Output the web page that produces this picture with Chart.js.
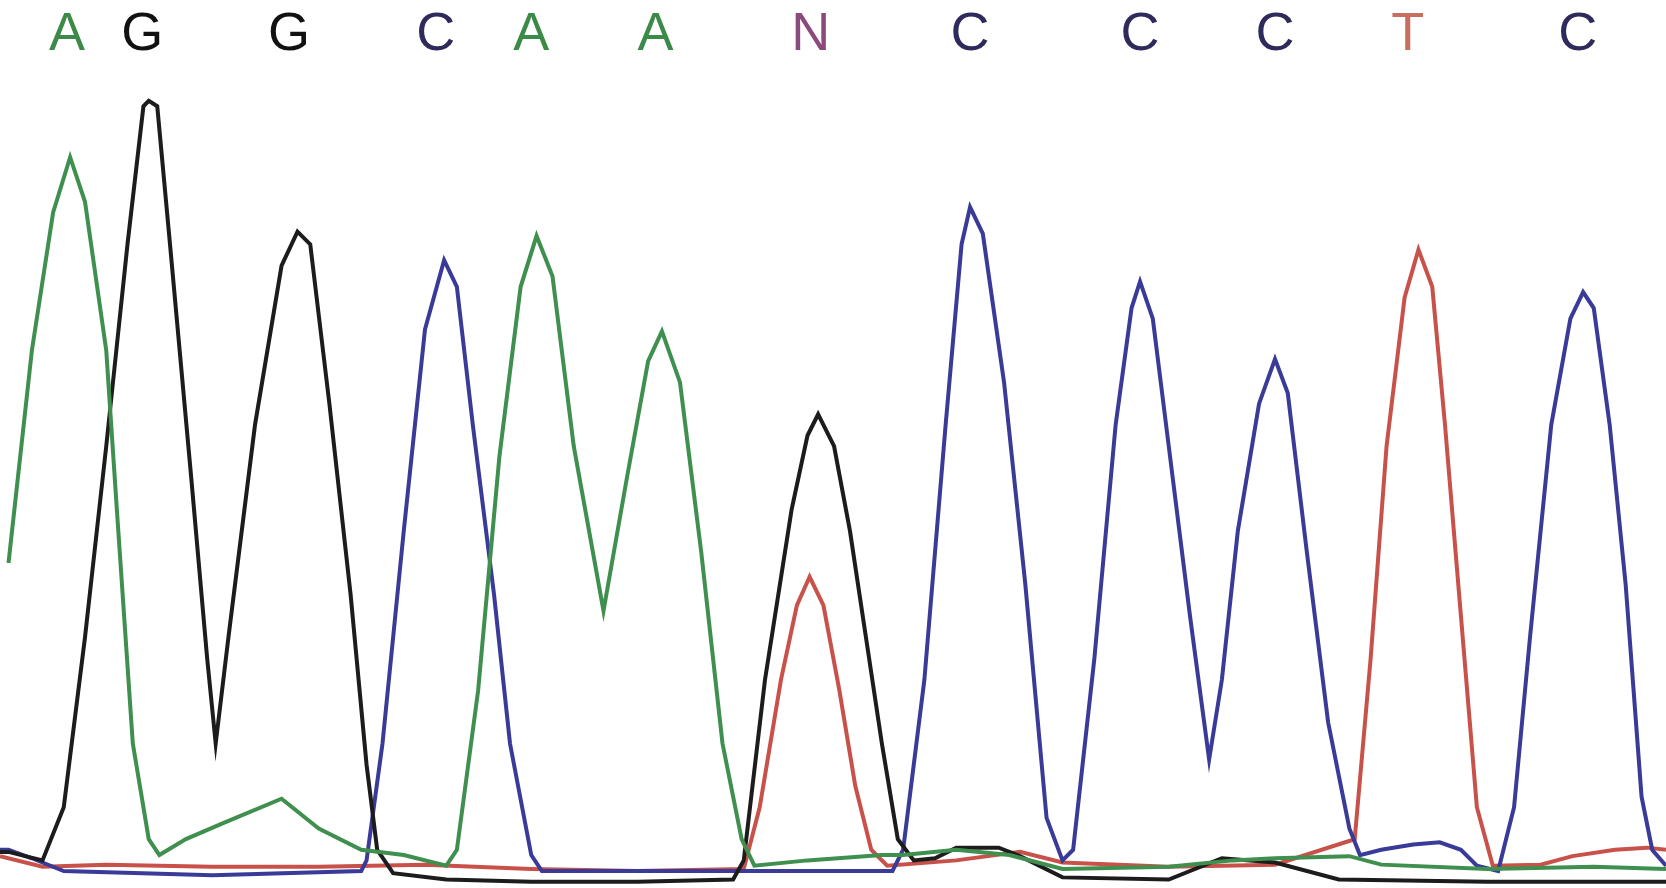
<!DOCTYPE html>
<html>
<head>
<meta charset="utf-8">
<script src="https://cdn.jsdelivr.net/npm/chart.js@4"></script>
<style>
  html, body { margin: 0; padding: 0; background: #fff; }
  #wrap { width: 1666px; height: 888px; }
</style>
</head>
<body>
<div id="wrap"><canvas id="trace" width="1666" height="888"></canvas></div>
<script>
// base calls shown above the trace (scan position, base)
const basePos = [63, 134, 272, 410, 500, 617, 763, 913, 1073, 1200, 1325, 1485];
const baseCalls = ['A', 'G', 'G', 'C', 'A', 'A', 'N', 'C', 'C', 'C', 'T', 'C'];

// trace signal: [scan position, intensity]
const traceA = [[8,306],[30,506],[50,636],[66,688],[80,646],[100,506],[110,356],[125,136],[140,46],[150,31],[175,46],[210,61],[265,84],[300,56],[340,36],[380,31],[420,21],[430,36],[450,186],[470,406],[490,566],[505,614],[520,576],[540,416],[568,261],[590,386],[610,496],[623,524],[640,476],[660,316],[680,136],[698,46],[710,21],[760,26],[830,31],[850,31],[900,36],[950,31],[1000,18],[1100,20],[1160,26],[1200,28],[1270,30],[1300,22],[1400,18],[1500,20],[1568,18]];
const traceG = [[0,34],[8,34],[40,26],[60,76],[80,236],[100,416],[120,606],[135,736],[140,741],[148,736],[160,606],[180,386],[195,216],[203,136],[215,236],[240,436],[265,586],[280,618],[292,606],[310,456],[330,276],[345,116],[355,36],[370,14],[420,8],[500,6],[600,6],[690,8],[700,26],[720,196],[745,356],[760,426],[770,446],[785,416],[800,336],[815,236],[830,136],[845,46],[860,26],[880,28],[900,38],[940,38],[960,30],[1000,10],[1100,8],[1150,28],[1200,24],[1260,8],[1400,6],[1568,6]];
const traceC = [[0,36],[8,36],[30,28],[60,16],[200,12],[340,16],[345,26],[360,136],[380,336],[400,526],[418,591],[430,566],[445,436],[465,276],[480,136],[500,31],[510,16],[840,16],[850,36],[870,196],[890,436],[905,606],[913,641],[925,616],[945,476],[965,286],[985,66],[1000,26],[1010,36],[1030,216],[1050,436],[1065,546],[1073,571],[1085,536],[1100,416],[1120,256],[1138,121],[1150,196],[1165,336],[1185,456],[1200,498],[1212,466],[1230,316],[1250,156],[1270,56],[1280,31],[1300,36],[1330,41],[1355,43],[1375,36],[1390,21],[1410,16],[1425,76],[1440,236],[1460,436],[1478,536],[1490,561],[1500,546],[1515,436],[1530,286],[1545,86],[1555,36],[1568,21]];
const traceT = [[0,30],[40,20],[100,22],[200,20],[300,20],[400,22],[500,18],[600,16],[700,18],[715,76],[735,196],[750,266],[762,293],[775,266],[790,186],[805,96],[820,36],[835,21],[900,26],[960,34],[1000,24],[1100,20],[1200,22],[1275,46],[1290,216],[1305,416],[1322,556],[1335,601],[1348,566],[1360,436],[1375,256],[1390,76],[1405,21],[1450,22],[1480,30],[1520,36],[1550,38],[1568,36]];

const baseColors = { A: '#3b8a48', G: '#111111', C: '#2e2a5c', N: '#8c4a7c', T: '#c76e5e' };

function toPoints(arr) {
    return arr.map(p => ({ x: p[0], y: p[1] }));
}

function makeSet(label, arr, color) {
    return {
        label: label,
        data: toPoints(arr),
        borderColor: color,
        borderWidth: 4,
        pointRadius: 0,
        tension: 0,
        fill: false
    };
}

// letters over the peaks
const baseLabels = {
    id: 'baseLabels',
    afterDraw(chart) {
        const ctx = chart.ctx;
        const xs = chart.scales.x;
        const ys = chart.scales.y;
        ctx.save();
        ctx.font = '54px "Liberation Sans", Arial, sans-serif';
        ctx.textAlign = 'center';
        ctx.textBaseline = 'alphabetic';
        basePos.forEach((pos, i) => {
            const b = baseCalls[i];
            ctx.fillStyle = baseColors[b];
            ctx.fillText(b, xs.getPixelForValue(pos), ys.getPixelForValue(789));
        });
        ctx.restore();
    }
};

const ctx = document.getElementById('trace').getContext('2d');
new Chart(ctx, {
    type: 'line',
    data: {
        datasets: [
            makeSet('A', traceA, '#3f8f4f'),
            makeSet('G', traceG, '#1c1c1c'),
            makeSet('C', traceC, '#3a3a98'),
            makeSet('T', traceT, '#c8524a')
        ]
    },
    options: {
        responsive: false,
        animation: false,
        layout: { padding: 0 },
        plugins: {
            legend: { display: false },
            tooltip: { enabled: false }
        },
        scales: {
            x: { type: 'linear', min: 0, max: 1568, display: false },
            y: { min: 0, max: 836, display: false }
        }
    },
    plugins: [baseLabels]
});
</script>
</body>
</html>
